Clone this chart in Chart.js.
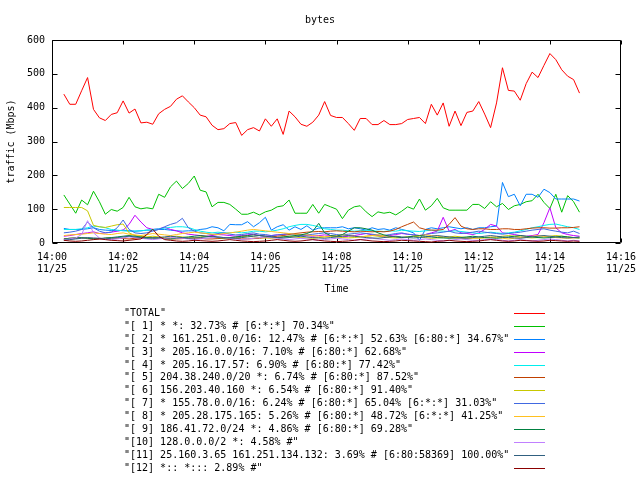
<!DOCTYPE html>
<html>
<head>
<meta charset="utf-8">
<script src="https://cdn.jsdelivr.net/npm/chart.js@4/dist/chart.umd.min.js"></script>
<style>
body { margin: 0; background: #fff; }
#wrap { position: relative; width: 640px; height: 480px; }
#legend { position: absolute; left: 0; top: 307px; width: 640px; font: 10px "DejaVu Sans Mono", monospace; color: #000; }
.row { position: relative; height: 12.9px; line-height: 12.9px; white-space: pre; }
.row span { position: absolute; left: 124px; top: 0; }
.row i { position: absolute; left: 514px; width: 31px; top: 6px; border-top: 1px solid; }
</style>
</head>
<body>
<div id="wrap">
<canvas id="bytes" width="640" height="480"></canvas>
<div id="legend"></div>
</div>
<script>
// seconds after 14:00, one sample every 10 s
const times = [20,30,40,50,60,70,80,90,100,110,
  120,130,140,150,160,170,180,190,200,210,
  220,230,240,250,260,270,280,290,300,310,
  320,330,340,350,360,370,380,390,400,410,
  420,430,440,450,460,470,480,490,500,510,
  520,530,540,550,560,570,580,590,600,610,
  620,630,640,650,660,670,680,690,700,710,
  720,730,740,750,760,770,780,790,800,810,
  820,830,840,850,860,870,880,890];
const tickLabels = ['14:00','14:02','14:04','14:06','14:08','14:10','14:12','14:14','14:16'];
const dateLabel = '11/25';

const seriesNames = [
  '"TOTAL"',
  '"[ 1] * *: 32.73% # [6:*:*] 70.34%"',
  '"[ 2] * 161.251.0.0/16: 12.47% # [6:*:*] 52.63% [6:80:*] 34.67%"',
  '"[ 3] * 205.16.0.0/16: 7.10% # [6:80:*] 62.68%"',
  '"[ 4] * 205.16.17.57: 6.90% # [6:80:*] 77.42%"',
  '"[ 5] 204.38.240.0/20 *: 6.74% # [6:80:*] 87.52%"',
  '"[ 6] 156.203.40.160 *: 6.54% # [6:80:*] 91.40%"',
  '"[ 7] * 155.78.0.0/16: 6.24% # [6:80:*] 65.04% [6:*:*] 31.03%"',
  '"[ 8] * 205.28.175.165: 5.26% # [6:80:*] 48.72% [6:*:*] 41.25%"',
  '"[ 9] 186.41.72.0/24 *: 4.86% # [6:80:*] 69.28%"',
  '"[10] 128.0.0.0/2 *: 4.58% #"',
  '"[11] 25.160.3.65 161.251.134.132: 3.69% # [6:80:58369] 100.00%"',
  '"[12] *:: *::: 2.89% #"'
];

const total = [440,410,410,450,489,395,370,362,380,385,
  420,384,396,355,357,351,382,395,404,425,
  435,417,400,378,373,348,335,338,353,356,
  318,335,341,331,367,345,367,321,390,373,
  351,345,357,378,418,377,371,371,353,333,
  368,368,350,350,362,350,350,353,365,368,
  371,353,410,378,414,345,390,347,386,390,
  418,381,341,414,518,451,449,422,471,505,
  489,525,560,542,512,493,483,443];
const s01 = [142,115,88,127,113,153,122,85,99,94,
  105,135,107,101,104,101,144,135,166,183,
  161,176,198,156,151,107,120,120,114,100,
  85,85,91,83,92,97,107,110,127,88,
  88,88,114,88,114,107,100,72,97,107,
  110,92,78,92,88,91,83,94,107,100,
  130,97,110,132,104,97,97,97,97,114,
  114,102,122,107,117,99,110,114,122,125,
  144,120,102,144,91,140,122,91];
const s02 = [43,40,40,40,42,45,40,38,37,36,
  38,36,35,36,38,38,40,40,38,36,
  35,36,36,40,42,48,45,36,55,54,
  54,63,48,60,76,38,48,54,38,48,
  40,51,38,44,45,45,45,48,42,45,
  42,38,45,40,42,38,45,40,36,30,
  8,40,45,42,45,48,45,42,45,40,
  45,45,48,50,179,137,144,110,144,144,
  135,159,149,130,130,130,130,124];
const s03 = [20,22,25,28,30,33,28,30,32,35,
  38,55,82,62,45,40,42,46,40,36,
  30,26,24,22,20,22,25,24,22,20,
  22,24,26,22,20,22,24,25,28,26,
  24,22,20,22,24,22,20,18,20,22,
  25,28,24,22,20,22,25,28,26,24,
  22,25,30,35,76,35,40,30,28,25,
  30,40,55,50,30,28,25,22,20,22,
  25,60,104,45,30,25,22,20];
const s04 = [40,40,40,42,45,50,48,45,40,38,
  36,35,35,36,38,40,42,44,46,48,
  48,46,40,35,32,30,32,30,30,32,
  30,32,35,35,33,35,38,42,48,52,
  55,55,52,48,42,40,38,38,36,35,
  36,38,36,35,34,36,35,38,36,35,
  34,36,38,36,35,34,36,34,32,30,
  28,30,32,30,28,30,32,36,40,45,
  48,52,55,56,52,48,45,40];
const s05 = [12,14,15,15,14,13,12,14,15,14,
  13,12,14,15,16,15,14,13,12,12,
  13,14,15,14,12,12,13,14,15,14,
  12,12,13,14,16,18,20,22,25,28,
  30,32,33,34,33,35,36,35,34,33,
  35,34,33,34,33,35,40,48,55,62,
  45,40,38,38,40,55,75,50,42,40,
  42,42,40,40,42,42,40,40,42,44,
  45,45,44,44,45,45,46,48];
const s06 = [105,105,105,105,95,52,48,46,50,54,
  56,30,22,20,18,20,18,16,18,20,
  18,16,15,18,20,18,16,15,14,16,
  18,20,18,16,15,14,16,18,20,18,
  16,15,14,16,18,20,18,16,15,16,
  18,20,22,20,18,16,15,16,18,20,
  18,16,14,15,16,18,20,18,16,15,
  14,15,16,18,20,22,20,18,16,15,
  16,18,20,22,20,18,16,15];
const s07 = [30,32,35,40,62,45,35,30,32,45,
  68,40,30,28,30,35,40,48,55,60,
  73,45,35,30,28,25,28,30,26,24,
  25,28,30,26,25,22,24,26,28,25,
  22,24,26,28,30,28,25,24,26,28,
  30,28,26,24,22,25,28,30,26,24,
  22,25,28,30,32,35,30,28,30,32,
  35,32,30,28,26,28,30,32,35,38,
  40,42,38,35,32,30,35,28];
const s08 = [22,24,25,26,28,30,28,26,25,28,
  30,26,24,22,25,28,26,24,22,25,
  28,30,32,30,28,26,25,28,30,32,
  35,38,40,38,36,34,32,30,28,26,
  25,24,22,20,18,20,22,24,22,20,
  18,20,22,24,22,20,18,16,18,20,
  22,24,22,20,18,16,15,14,12,14,
  15,16,18,16,14,12,14,16,18,20,
  22,20,18,16,15,14,15,16];
const s09 = [12,14,15,16,14,12,13,15,16,18,
  20,22,20,18,16,15,14,13,12,14,
  16,18,20,22,20,18,16,15,16,18,
  20,22,24,22,20,18,16,18,20,22,
  24,28,35,58,30,22,20,25,35,45,
  45,42,38,30,24,20,18,16,18,20,
  22,20,18,16,15,14,15,16,18,20,
  18,16,15,14,16,18,20,22,20,18,
  16,15,16,18,20,18,16,15];
const s10 = [10,12,15,25,66,30,15,12,10,12,
  15,18,16,14,12,10,12,14,16,15,
  14,12,10,12,14,16,18,16,14,12,
  10,12,14,16,18,16,14,12,10,12,
  14,12,10,8,10,12,14,12,10,8,
  10,12,14,12,10,8,10,12,10,8,
  10,12,10,8,6,8,10,12,10,8,
  8,10,12,10,8,6,8,10,8,6,
  8,10,12,10,8,6,8,6];
const s11 = [8,10,12,14,16,15,14,12,14,16,
  18,20,18,16,14,15,16,18,20,18,
  16,14,15,16,18,20,18,16,15,14,
  16,18,20,22,20,18,16,15,16,18,
  20,18,16,15,14,16,18,20,22,20,
  18,16,15,14,16,18,20,18,16,15,
  16,18,20,22,20,18,16,15,14,16,
  18,20,22,20,18,16,15,14,16,18,
  20,22,20,18,16,15,16,18];
const s12 = [8,6,5,6,8,10,12,10,8,7,
  6,8,10,12,25,41,20,10,8,6,
  5,6,8,7,6,5,6,8,10,8,
  6,5,4,5,6,8,10,8,6,5,
  6,8,10,8,6,5,4,5,6,8,
  10,8,6,5,4,5,6,8,7,6,
  5,4,3,5,6,8,6,5,4,5,
  6,8,10,8,6,5,6,8,7,6,
  5,6,8,7,6,5,6,5];

const seriesValues = [total, s01, s02, s03, s04, s05, s06, s07, s08, s09, s10, s11, s12];
const colors = ['#ff0000','#00c000','#0080ff','#c000ff','#00eeee','#c04000','#c8c800',
  '#4169e1','#ffc020','#008040','#c080ff','#306080','#8b0000'];

Chart.defaults.font.family = '"DejaVu Sans Mono", monospace';
Chart.defaults.font.size = 10;
Chart.defaults.color = '#000';

// gnuplot style box with inward ticks on all four sides
const frame = {
  id: 'frame',
  beforeDatasetsDraw(chart) {
    const {ctx, chartArea: a, scales: {x, y}} = chart;
    const L = Math.round(a.left) + 0.5, R = Math.round(a.right) - 0.5;
    const T = Math.round(a.top) + 0.5, B = Math.round(a.bottom) - 0.5;
    ctx.save();
    ctx.strokeStyle = '#000';
    ctx.lineWidth = 1;
    ctx.beginPath();
    ctx.rect(L, T, R - L, B - T);
    x.ticks.forEach(t => {
      const px = Math.round(x.getPixelForValue(t.value)) + 0.5;
      ctx.moveTo(px, B); ctx.lineTo(px, B - 4);
      ctx.moveTo(px, T); ctx.lineTo(px, T + 4);
    });
    y.ticks.forEach(t => {
      const py = Math.round(y.getPixelForValue(t.value)) + 0.5;
      ctx.moveTo(L, py); ctx.lineTo(L + 5, py);
      ctx.moveTo(R, py); ctx.lineTo(R - 5, py);
    });
    ctx.stroke();
    ctx.restore();
  }
};

const n = seriesValues.length;
const chart = new Chart(document.getElementById('bytes'), {
  type: 'line',
  data: {
    datasets: seriesValues.map((vals, i) => ({
      label: seriesNames[i],
      data: vals.map((v, j) => ({x: times[j], y: v})),
      borderColor: colors[i],
      backgroundColor: colors[i],
      borderWidth: 1,
      pointRadius: 0,
      tension: 0,
      order: n - i
    }))
  },
  options: {
    responsive: false,
    animation: false,
    layout: { padding: { left: 0, right: 0, top: 0, bottom: 181 } },
    plugins: {
      legend: { display: false },
      tooltip: { enabled: false },
      title: {
        display: true,
        text: 'bytes',
        font: { size: 10, weight: 'normal' },
        padding: { top: 14, bottom: 14 }
      }
    },
    scales: {
      x: {
        type: 'linear',
        min: 0,
        max: 960,
        afterFit(s) { s.height = 56; s.paddingLeft = 0; s.paddingRight = 19; },
        grid: { display: false, drawTicks: false },
        border: { display: false },
        ticks: {
          stepSize: 120,
          autoSkip: false,
          maxRotation: 0,
          padding: 8,
          callback: (v, i) => [tickLabels[i], dateLabel]
        },
        title: { display: true, text: 'Time', padding: { top: 0, bottom: 4 } }
      },
      y: {
        min: 0,
        max: 600,
        afterFit(s) { s.width = 52; s.paddingTop = 0; s.paddingBottom = 0; },
        grid: { display: false, drawTicks: false },
        border: { display: false },
        ticks: { stepSize: 100, padding: 7 },
        title: { display: true, text: 'traffic (Mbps)', padding: { top: 5, bottom: 0 } }
      }
    }
  },
  plugins: [frame]
});

// legend in gnuplot layout: text on the left, line sample on the right
const legend = document.getElementById('legend');
chart.data.datasets.forEach(ds => {
  const row = document.createElement('div');
  row.className = 'row';
  const label = document.createElement('span');
  label.textContent = ds.label;
  const sample = document.createElement('i');
  sample.style.borderColor = ds.borderColor;
  row.appendChild(label);
  row.appendChild(sample);
  legend.appendChild(row);
});
</script>
</body>
</html>
